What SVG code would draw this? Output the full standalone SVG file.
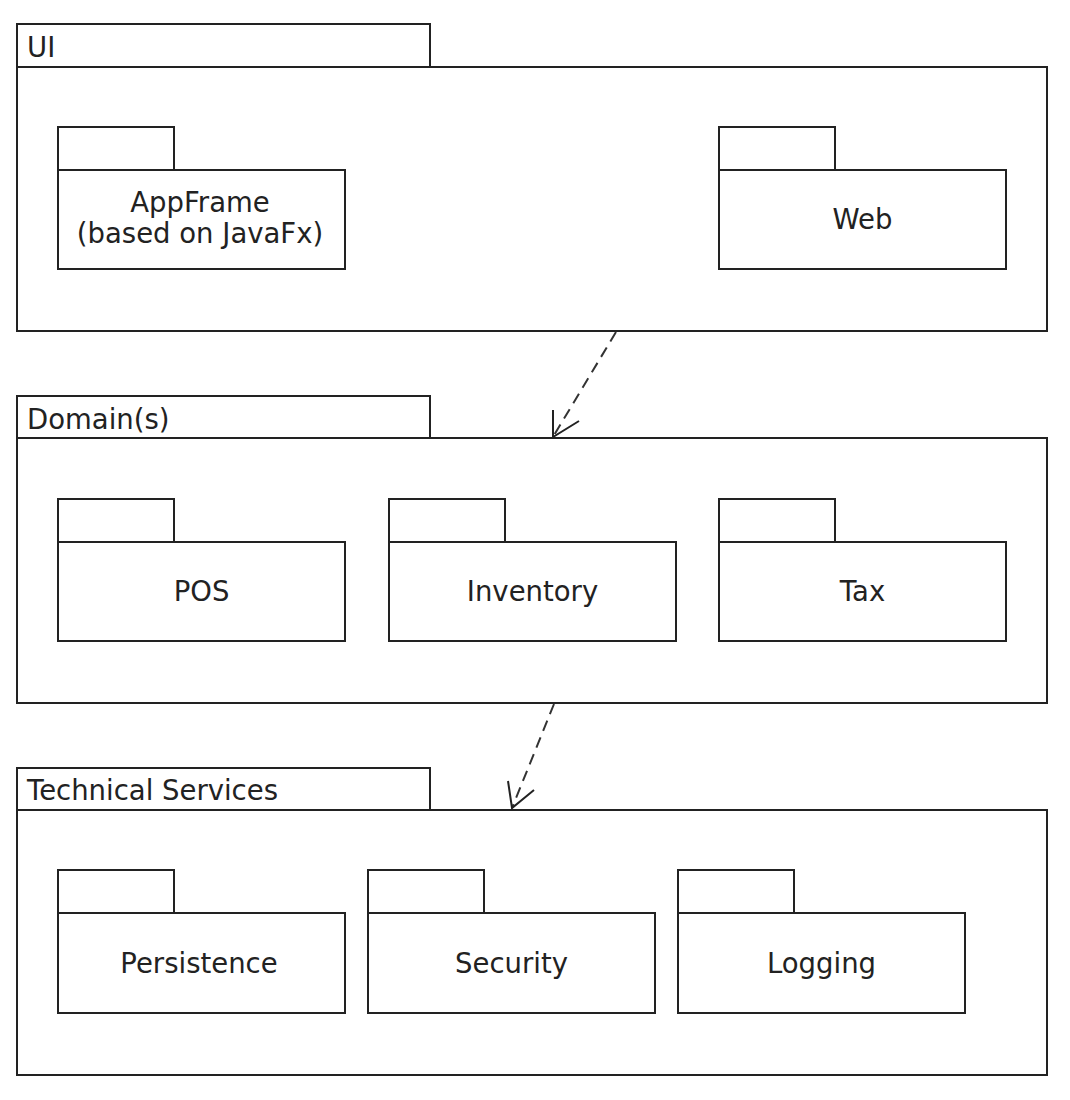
<svg xmlns="http://www.w3.org/2000/svg" width="1070" height="1100" viewBox="0 0 1070 1100">
<style>
.b{fill:#fff;stroke:#222;stroke-width:2}
.t{font-family:"DejaVu Sans",sans-serif;font-size:27.5px;fill:#222}
.c{text-anchor:middle}
.dep{fill:none;stroke:#333;stroke-width:2;stroke-dasharray:11 7}
.ah{fill:none;stroke:#222;stroke-width:2}
</style>
<rect width="1070" height="1100" fill="#fff"/>
<g id="ui">
<rect class="b" x="17" y="24" width="413" height="43"/>
<rect class="b" x="17" y="67" width="1030" height="264"/>
<text class="t" x="27" y="57">UI</text>
</g>
<g id="appframe">
<rect class="b" x="58" y="127" width="116" height="43"/>
<rect class="b" x="58" y="170" width="287" height="99"/>
<text class="t c" x="200" y="212">AppFrame</text>
<text class="t c" x="200" y="243">(based on JavaFx)</text>
</g>
<g id="web">
<rect class="b" x="719" y="127" width="116" height="43"/>
<rect class="b" x="719" y="170" width="287" height="99"/>
<text class="t c" x="862.5" y="229">Web</text>
</g>
<g id="domain">
<rect class="b" x="17" y="396" width="413" height="42"/>
<rect class="b" x="17" y="438" width="1030" height="265"/>
<text class="t" x="27" y="429">Domain(s)</text>
</g>
<g id="pos">
<rect class="b" x="58" y="499" width="116" height="43"/>
<rect class="b" x="58" y="542" width="287" height="99"/>
<text class="t c" x="201.5" y="601">POS</text>
</g>
<g id="inventory">
<rect class="b" x="389" y="499" width="116" height="43"/>
<rect class="b" x="389" y="542" width="287" height="99"/>
<text class="t c" x="532.5" y="601">Inventory</text>
</g>
<g id="tax">
<rect class="b" x="719" y="499" width="116" height="43"/>
<rect class="b" x="719" y="542" width="287" height="99"/>
<text class="t c" x="862.5" y="601">Tax</text>
</g>
<g id="technical-services">
<rect class="b" x="17" y="768" width="413" height="42"/>
<rect class="b" x="17" y="810" width="1030" height="265"/>
<text class="t" x="27" y="800">Technical Services</text>
</g>
<g id="persistence">
<rect class="b" x="58" y="870" width="116" height="43"/>
<rect class="b" x="58" y="913" width="287" height="100"/>
<text class="t c" x="199" y="973">Persistence</text>
</g>
<g id="security">
<rect class="b" x="368" y="870" width="116" height="43"/>
<rect class="b" x="368" y="913" width="287" height="100"/>
<text class="t c" x="511.5" y="973">Security</text>
</g>
<g id="logging">
<rect class="b" x="678" y="870" width="116" height="43"/>
<rect class="b" x="678" y="913" width="287" height="100"/>
<text class="t c" x="821.5" y="973">Logging</text>
</g>
<g id="connectors">
<line class="dep" x1="616" y1="332" x2="553" y2="437"/>
<polyline class="ah" points="553,410 553,437 579,421"/>
<line class="dep" x1="554" y1="704" x2="512" y2="808"/>
<polyline class="ah" points="508,781 512,808 534,790"/>
</g>
</svg>
